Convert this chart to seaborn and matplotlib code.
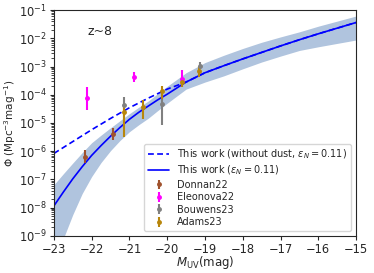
import numpy as np
import pandas as pd
import seaborn as sns
import matplotlib
matplotlib.use('Agg')
import matplotlib.pyplot as plt

# =============================================================================
# Data (log10 Phi)
# =============================================================================
mag = [-23, -22.75, -22.5, -22.25, -22, -21.75, -21.5, -21.25, -21, -20.75,
       -20.5, -20.25, -20, -19.5, -19, -18.5, -18, -17.5, -17, -16.5, -16,
       -15.5, -15]
log_model = [-7.94, -7.45, -6.98, -6.55, -6.15, -5.8, -5.47, -5.16, -4.87,
             -4.62, -4.4, -4.18, -3.98, -3.55, -3.22, -2.97, -2.73, -2.5,
             -2.27, -2.05, -1.84, -1.64, -1.44]
log_nodust = [-6.08, -5.87, -5.66, -5.45, -5.24, -5.04, -4.84, -4.65, -4.46,
              -4.29, -4.12, -3.96, -3.8, -3.55, -3.22, -2.97, -2.73, -2.5,
              -2.27, -2.05, -1.84, -1.64, -1.44]
log_upper = [-7.19, -6.8, -6.42, -6.05, -5.7, -5.43, -5.17, -4.92, -4.67,
             -4.44, -4.22, -3.96, -3.7, -3.22, -2.86, -2.6, -2.36, -2.14,
             -1.95, -1.77, -1.57, -1.39, -1.21]
log_lower = [-10.0, -9.1, -8.25, -7.5, -6.9, -6.4, -5.98, -5.62, -5.31,
             -5.06, -4.83, -4.56, -4.3, -3.8, -3.55, -3.33, -3.08, -2.84,
             -2.63, -2.43, -2.3, -2.18, -2.06]

# observations: mag, log phi, log upper, log lower
donnan_m = [-22.18, -21.43]
donnan_y = [-6.19, -5.40]
donnan_hi = [-5.96, -5.19]
donnan_lo = [-6.43, -5.60]

eleonova_m = [-22.12, -20.88, -19.62]
eleonova_y = [-4.13, -3.36, -3.43]
eleonova_hi = [-3.71, -3.18, -3.12]
eleonova_lo = [-4.54, -3.54, -3.72]

bouwens_m = [-21.14, -20.13, -19.13]
bouwens_y = [-4.35, -4.33, -2.97]
bouwens_hi = [-4.07, -3.9, -2.83]
bouwens_lo = [-5.0, -5.07, -3.1]

adams_m = [-21.15, -20.65, -20.14, -19.61, -19.15]
adams_y = [-4.62, -4.45, -3.85, -3.55, -3.15]
adams_hi = [-4.4, -4.17, -3.7, -3.4, -2.97]
adams_lo = [-5.5, -4.85, -4.15, -3.72, -3.36]

# =============================================================================
# Plot
# =============================================================================
sns.set_style('ticks')
plt.rcParams['font.family'] = ['DejaVu Sans']
plt.rcParams['mathtext.fontset'] = 'dejavusans'

df = pd.DataFrame({'M': mag,
                   'model': np.power(10.0, log_model),
                   'nodust': np.power(10.0, log_nodust),
                   'up': np.power(10.0, log_upper),
                   'lo': np.power(10.0, log_lower)})

fig = plt.figure(figsize=(3.74, 2.73), dpi=100)
ax = fig.add_axes([0.144, 0.136, 0.808, 0.827])

ax.fill_between(df.M, df.lo, df.up, color='lightsteelblue', lw=0)
sns.lineplot(data=df, x='M', y='nodust', ax=ax, color='blue', lw=1.2,
             linestyle=(0, (3.5, 2)),
             label=r'This work (without dust, $\epsilon_N = 0.11$)')
sns.lineplot(data=df, x='M', y='model', ax=ax, color='blue', lw=1.2,
             label=r'This work ($\epsilon_N = 0.11$)')


def obs(m, y, hi, lo, color, label):
    y = np.power(10.0, np.array(y))
    err = [y - np.power(10.0, np.array(lo)), np.power(10.0, np.array(hi)) - y]
    ax.errorbar(m, y, yerr=err, fmt='o', ms=2.5, color=color, elinewidth=1.5,
                capsize=0, label=label)


obs(donnan_m, donnan_y, donnan_hi, donnan_lo, 'sienna', 'Donnan22')
obs(eleonova_m, eleonova_y, eleonova_hi, eleonova_lo, 'magenta', 'Eleonova22')
obs(bouwens_m, bouwens_y, bouwens_hi, bouwens_lo, 'gray', 'Bouwens23')
obs(adams_m, adams_y, adams_hi, adams_lo, 'darkgoldenrod', 'Adams23')

ax.set_yscale('log')
ax.set_xlim(-23, -15)
ax.set_ylim(1e-9, 1e-1)
ax.set_xticks(range(-23, -14))
ax.tick_params(labelsize=8.3, length=3, pad=2)
ax.set_xlabel(r'$M_{\rm UV}$(mag)', fontsize=8.5)
ax.set_ylabel(r'$\Phi$ (Mpc$^{-3}$mag$^{-1}$)', fontsize=7.5)
ax.xaxis.set_label_coords(0.5, -0.082)
ax.yaxis.set_label_coords(-0.118, 0.5)
ax.text(-22.1, 1.3e-2, 'z~8', fontsize=9)
ax.legend(loc='lower right', fontsize=7, frameon=True, handlelength=2.2,
          borderpad=0.4, labelspacing=0.25)

fig.savefig('out.png', dpi=100)
